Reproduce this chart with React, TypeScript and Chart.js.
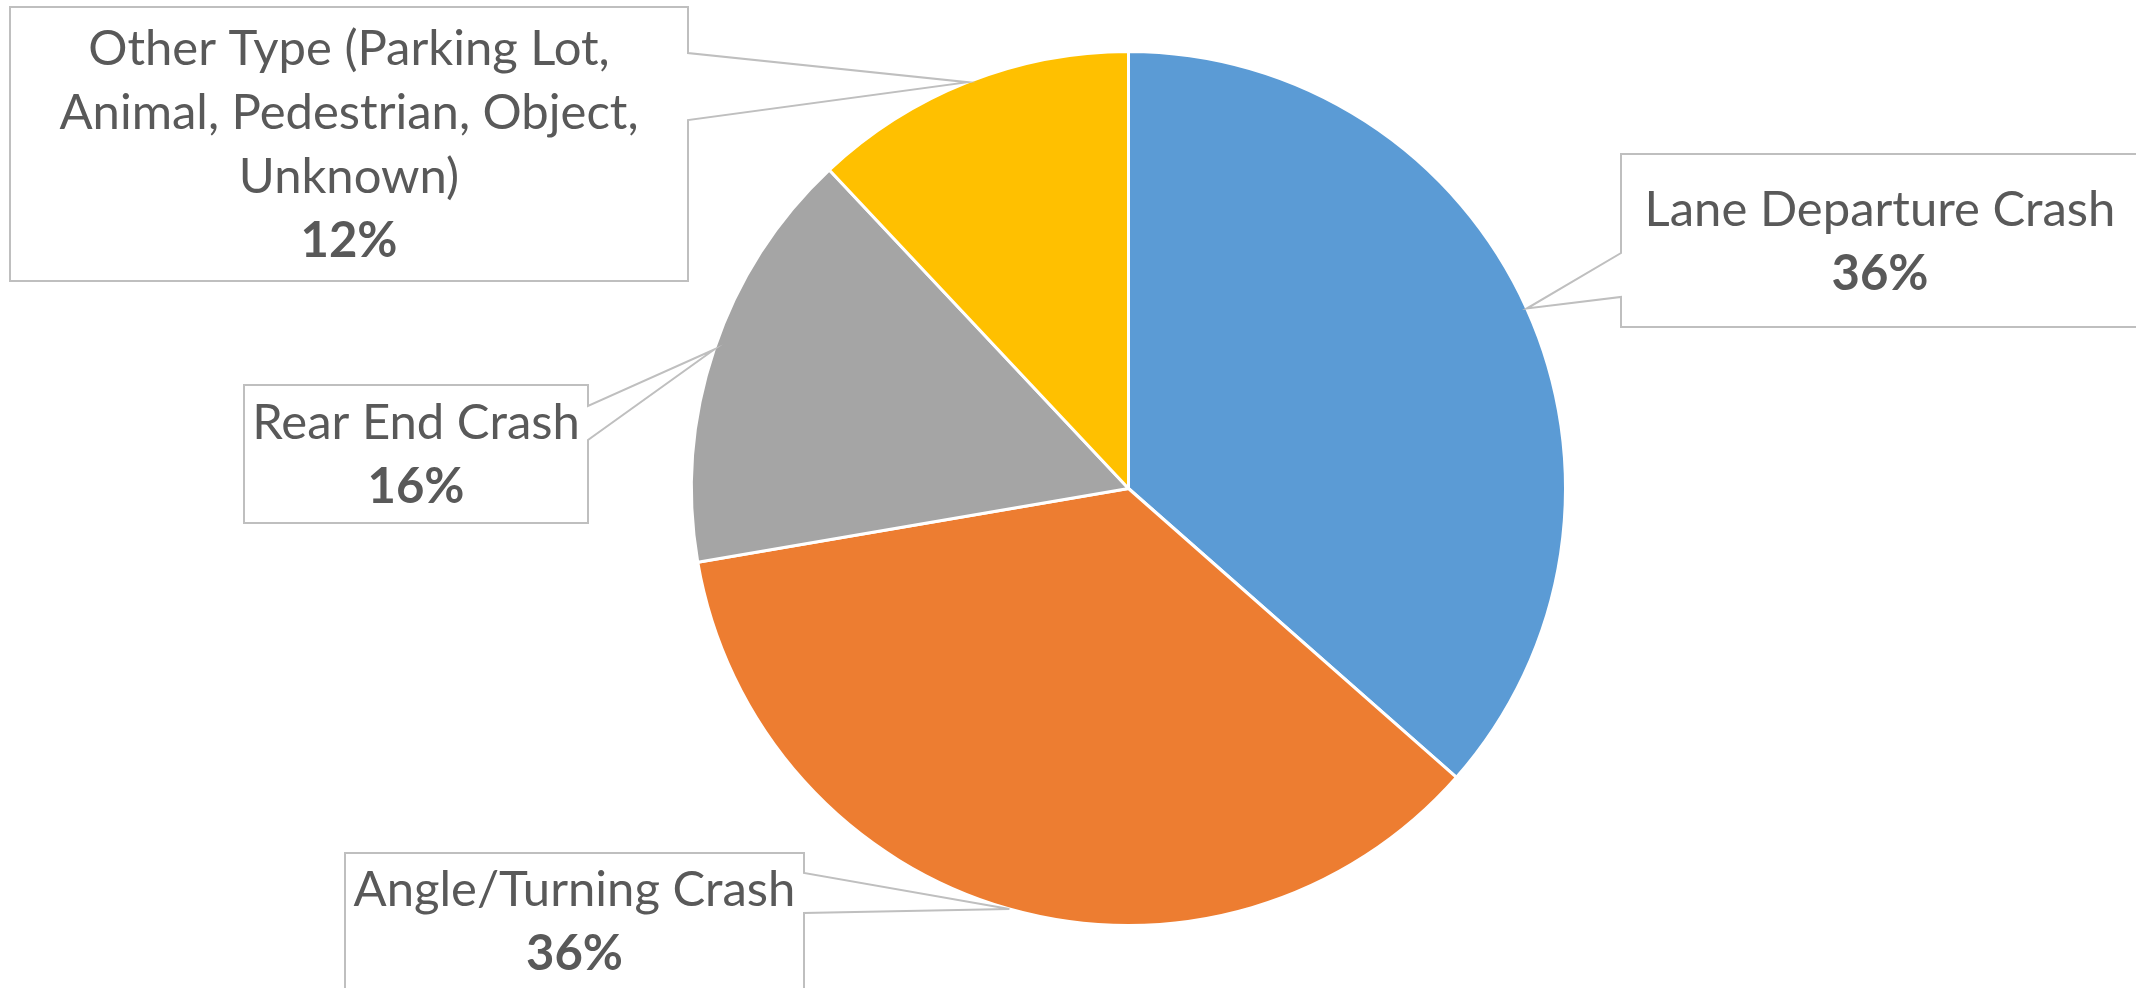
import React, { useEffect, useRef } from "react";
import { Chart, registerables } from "chart.js";

Chart.register(...registerables);

const categories: string[][] = [
  ["Lane Departure Crash"],
  ["Angle/Turning Crash"],
  ["Rear End Crash"],
  ["Other Type (Parking Lot,", "Animal, Pedestrian, Object,", "Unknown)"],
];
const shares: number[] = [36.49, 35.81, 15.7, 12.0];
const colors: string[] = ["#5B9BD5", "#ED7D31", "#A5A5A5", "#FFC000"];

const W = 2136;
const H = 988;

// callout box layout (x, y, w, h, pointer side, pointer base ys)
const boxes = [
  { x: 1621, y: 154, w: 518, h: 173, side: "left", p1: 253, p2: 297 },
  { x: 345, y: 853, w: 459, h: 136, side: "right", p1: 873, p2: 913 },
  { x: 244, y: 385, w: 344, h: 138, side: "right", p1: 406, p2: 440 },
  { x: 10, y: 7, w: 678, h: 274, side: "right", p1: 53, p2: 120 },
];

const calloutPlugin = {
  id: "callouts",
  afterDraw(chart: any) {
    const ctx = chart.ctx as CanvasRenderingContext2D;
    const meta = chart.getDatasetMeta(0);
    const data = chart.data.datasets[0].data as number[];
    const total = data.reduce((a, b) => a + b, 0);
    meta.data.forEach((arc: any, i: number) => {
      const { x, y, startAngle, endAngle, outerRadius } = arc.getProps(
        ["x", "y", "startAngle", "endAngle", "outerRadius"],
        true
      );
      const mid = (startAngle + endAngle) / 2;
      const ax = x + Math.cos(mid) * outerRadius;
      const ay = y + Math.sin(mid) * outerRadius;
      const b = boxes[i];
      ctx.save();
      ctx.beginPath();
      if (b.side === "right") {
        ctx.moveTo(b.x, b.y);
        ctx.lineTo(b.x + b.w, b.y);
        ctx.lineTo(b.x + b.w, b.p1);
        ctx.lineTo(ax, ay);
        ctx.lineTo(b.x + b.w, b.p2);
        ctx.lineTo(b.x + b.w, b.y + b.h);
        ctx.lineTo(b.x, b.y + b.h);
      } else {
        ctx.moveTo(b.x, b.y);
        ctx.lineTo(b.x + b.w, b.y);
        ctx.lineTo(b.x + b.w, b.y + b.h);
        ctx.lineTo(b.x, b.y + b.h);
        ctx.lineTo(b.x, b.p2);
        ctx.lineTo(ax, ay);
        ctx.lineTo(b.x, b.p1);
      }
      ctx.closePath();
      ctx.fillStyle = "#FFFFFF";
      ctx.fill();
      ctx.strokeStyle = "#BFBFBF";
      ctx.lineWidth = 2;
      ctx.lineJoin = "miter";
      ctx.stroke();

      const lines = chart.data.labels[i] as string[];
      const pct = Math.round((data[i] / total) * 100) + "%";
      const n = lines.length + 1;
      const lh = 64;
      const cx = b.x + b.w / 2;
      const midBase = b.y + b.h / 2 + 17;
      const firstBase = midBase - ((n - 1) * lh) / 2;
      ctx.fillStyle = "#595959";
      ctx.textAlign = "center";
      ctx.textBaseline = "alphabetic";
      ctx.font = "400 49px Lato";
      lines.forEach((t, k) => ctx.fillText(t, cx, firstBase + k * lh));
      ctx.font = "700 49px Lato";
      ctx.fillText(pct, cx, firstBase + (n - 1) * lh);
      ctx.restore();
    });
  },
};

export default function App() {
  const ref = useRef<HTMLCanvasElement | null>(null);
  useEffect(() => {
    document.body.style.margin = "0";
    document.body.style.background = "#FFFFFF";
    const canvas = ref.current!;
    const chart = new Chart(canvas, {
      type: "pie",
      data: {
        labels: categories as any,
        datasets: [
          {
            data: shares,
            backgroundColor: colors,
            borderColor: "#FFFFFF",
            borderWidth: 3,
          },
        ],
      },
      options: {
        responsive: false,
        animation: false,
        layout: { padding: { left: 690, right: 569, top: 50, bottom: 61 } },
        plugins: {
          legend: { display: false },
          tooltip: { enabled: false },
        },
      },
      plugins: [calloutPlugin],
    });
    return () => chart.destroy();
  }, []);
  return (
    <canvas
      ref={ref}
      width={W}
      height={H}
      style={{ display: "block", width: W, height: H }}
    />
  );
}
